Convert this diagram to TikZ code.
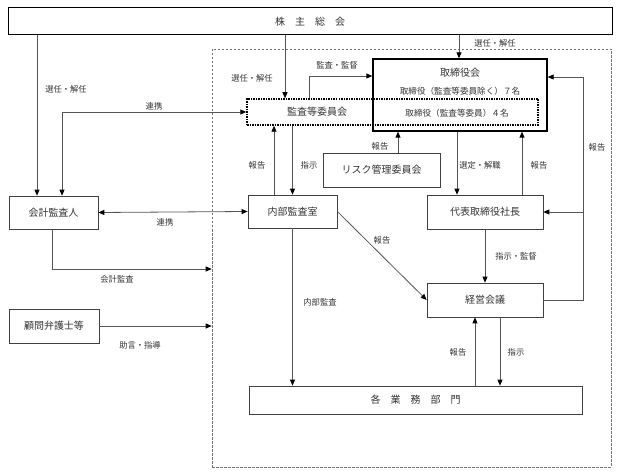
\documentclass[tikz,border=0pt]{standalone}
\usepackage{fontspec}
\setmainfont{Noto Sans CJK JP}
\usetikzlibrary{arrows.meta, positioning}
\usepackage{xcolor}
\definecolor{linegray}{HTML}{555555}
\definecolor{textgray}{HTML}{333333}
\tikzset{
    orgbox/.style={
        rectangle, draw=black!75, line width=0.7pt, text=textgray,
        font=\fontsize{10}{12}\selectfont, inner sep=0pt
    },
    topbox/.style={
        orgbox, draw=black, line width=1pt
    },
    boardbox/.style={
        rectangle, draw=black, line width=1.3pt
    },
    auditbox/.style={
        rectangle, draw=black, line width=1.5pt, dash pattern=on 1.5pt off 1pt
    },
    region/.style={
        rectangle, draw=black!55, line width=0.6pt, dash pattern=on 2.5pt off 1.5pt
    },
    plain/.style={
        text=textgray, font=\fontsize{10}{12}\selectfont, inner sep=0pt
    },
    member/.style={
        plain, font=\fontsize{8.6}{10}\selectfont
    },
    lbl/.style={
        text=textgray, font=\fontsize{8.3}{10}\selectfont, inner sep=1pt
    },
    arrow/.style={
        -{Triangle[length=6pt, width=5pt, color=black]}, draw=linegray, line width=0.8pt
    },
    dblarrow/.style={
        {Triangle[length=6pt, width=5pt, color=black]}-{Triangle[length=6pt, width=5pt, color=black]},
        draw=linegray, line width=0.8pt
    }
}

\begin{document}
\begin{tikzpicture}[x=1pt, y=-1pt]
    \useasboundingbox (0,0) rectangle (625,476);

    \node[region, minimum width=399pt, minimum height=418pt] (group)  at (411.5,258) {};

    \node[topbox, minimum width=604pt, minimum height=27pt]  (soukai) at (310,21.5)  {株\quad 主\quad 総\quad 会};
    \node[boardbox, minimum width=174pt, minimum height=72pt] (board) at (460,95)    {};
    \node[plain]                                      (boardtitle)  at (460,73)    {取締役会};
    \node[member]                                     (boardmember) at (460,91)    {取締役（監査等委員除く）７名};
    \node[auditbox, minimum width=291pt, minimum height=26pt] (audit) at (392.5,112) {};
    \node[plain]                                      (audittitle)  at (317,112)   {監査等委員会};
    \node[member]                                     (auditmember) at (457,113)   {取締役（監査等委員）４名};
    \node[orgbox, minimum width=117pt, minimum height=34pt] (risk)   at (381.5,170) {リスク管理委員会};
    \node[orgbox, minimum width=89pt,  minimum height=33pt] (kaikei) at (53.5,212.5) {会計監査人};
    \node[orgbox, minimum width=89pt,  minimum height=33pt] (naibu)  at (292.5,211.5) {内部監査室};
    \node[orgbox, minimum width=116pt, minimum height=34pt] (daihyo) at (485,212)   {代表取締役社長};
    \node[orgbox, minimum width=116pt, minimum height=34pt] (keiei)  at (485,300)   {経営会議};
    \node[orgbox, minimum width=90pt,  minimum height=34pt] (komon)  at (54,326)    {顧問弁護士等};
    \node[orgbox, minimum width=333pt, minimum height=28pt] (gyomu)  at (415.5,400) {各\quad 業\quad 務\quad 部\quad 門};

    \coordinate (selA)  at (37,0);
    \coordinate (renA)  at (62,0);
    \coordinate (selB)  at (285,0);
    \coordinate (selC)  at (459,0);
    \coordinate (kanA)  at (309,76);
    \coordinate (hokA)  at (274,0);
    \coordinate (riskA) at (398,0);
    \coordinate (senA)  at (457,0);
    \coordinate (hokB)  at (522,0);
    \coordinate (hokC)  at (583,77);
    \coordinate (kaikA) at (52,269);
    \coordinate (hokD)  at (475,0);
    \coordinate (shiD)  at (500,0);

    \draw[arrow]    (soukai.south -| selA) -- (kaikei.north -| selA);
    \draw[dblarrow] (kaikei.north -| renA) |- (audit.west);
    \draw[arrow]    (soukai.south -| selB) -- (audit.north -| selB);
    \draw[arrow]    (soukai.south -| selC) -- (board.north -| selC);
    \draw[arrow]    (audit.north -| kanA)  |- (board.west |- kanA);
    \draw[arrow]    (naibu.north -| hokA)  -- (audit.south -| hokA);
    \draw[arrow]    (audit.south -| naibu.north) -- (naibu.north);
    \draw[arrow]    (risk.north -| riskA)  -- (board.south -| riskA);
    \draw[arrow]    (board.south -| senA)  -- (daihyo.north -| senA);
    \draw[arrow]    (daihyo.north -| hokB) -- (board.south -| hokB);
    \draw[arrow]    (keiei.east) -| (hokC) -- (board.east |- hokC);
    \draw[arrow]    (daihyo.east -| hokC)  -- (daihyo.east);
    \draw[arrow]    (daihyo.south) -- (keiei.north);
    \draw[dblarrow] (kaikei.east)  -- (naibu.west);
    \draw[arrow]    (naibu.east)   -- (keiei.west);
    \draw[arrow]    (naibu.south)  -- (gyomu.north -| naibu.south);
    \draw[arrow]    (gyomu.north -| hokD)  -- (keiei.south -| hokD);
    \draw[arrow]    (keiei.south -| shiD)  -- (gyomu.north -| shiD);
    \draw[arrow]    (kaikei.south -| kaikA) |- (group.west |- kaikA);
    \draw[arrow]    (komon.east)   -- (komon.east -| group.west);

    \node[lbl] (selAlbl)  at (66,89)   {選任・解任};
    \node[lbl] (renAlbl)  at (154,106) {連携};
    \node[lbl] (selBlbl)  at (252,78)  {選任・解任};
    \node[lbl] (selClbl)  at (495,43)  {選任・解任};
    \node[lbl] (kanAlbl)  at (337,65)  {監査・監督};
    \node[lbl] (hokAlbl)  at (257,165) {報告};
    \node[lbl] (shiAlbl)  at (309,165) {指示};
    \node[lbl] (risklbl)  at (380,146) {報告};
    \node[lbl] (senAlbl)  at (480,165) {選定・解職};
    \node[lbl] (hokBlbl)  at (539,165) {報告};
    \node[lbl] (hokClbl)  at (597,147) {報告};
    \node[lbl] (shiBlbl)  at (516,256) {指示・監督};
    \node[lbl] (renBlbl)  at (165,222) {連携};
    \node[lbl] (hokElbl)  at (382,240) {報告};
    \node[lbl] (naibulbl) at (320,302) {内部監査};
    \node[lbl] (hokDlbl)  at (458,352) {報告};
    \node[lbl] (shiDlbl)  at (516,352) {指示};
    \node[lbl] (kaikAlbl) at (117,279) {会計監査};
    \node[lbl] (komonlbl) at (140,345) {助言・指導};

\end{tikzpicture}
\end{document}
